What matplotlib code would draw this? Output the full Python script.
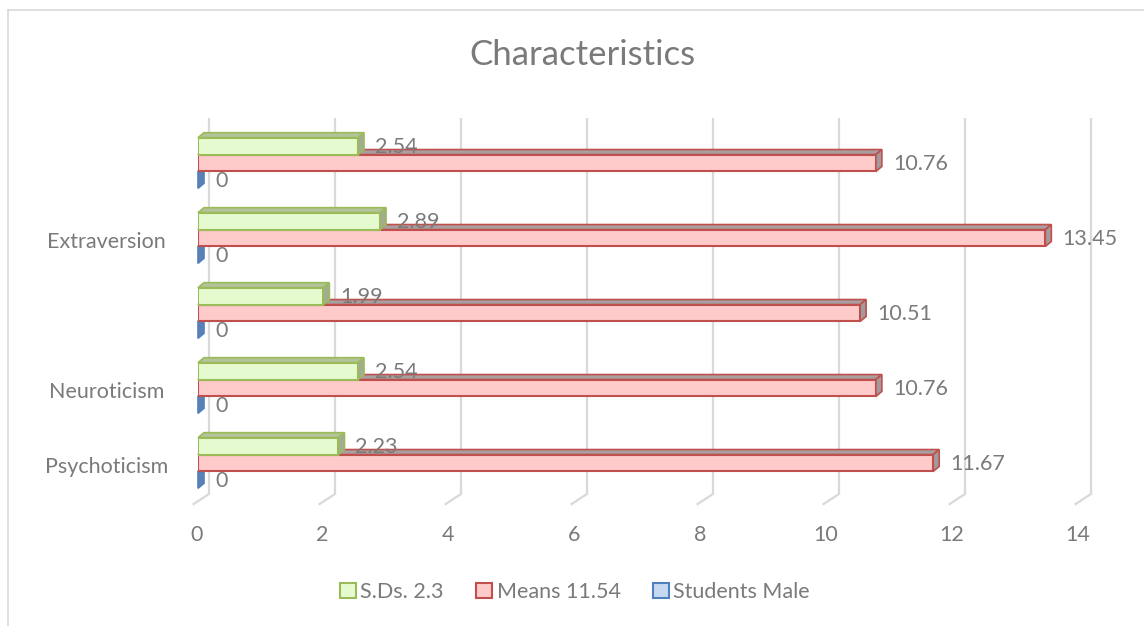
import matplotlib.pyplot as plt
from matplotlib.patches import Polygon, Patch
from matplotlib.lines import Line2D

plt.rcParams['font.family'] = ['Lato', 'DejaVu Sans']

# data
categories = ["Psychoticism", "Neuroticism", "", "Extraversion", ""]
sds = [2.23, 2.54, 1.99, 2.89, 2.54]
means = [11.67, 10.76, 10.51, 13.45, 10.76]
students_male = [0, 0, 0, 0, 0]
series_names = ["S.Ds. 2.3", "Means 11.54", "Students Male"]
xticks = [0, 2, 4, 6, 8, 10, 12, 14]

text_col = '#7a7a7a'
grid_col = '#d9d9d9'
fs = 15.5

# face, edge, side, top colours per series
green = ('#e6fad0', '#9bbb59', '#a3ab93', '#b3c49a')
red = ('#ffcaca', '#c0504d', '#a39b9b', '#a8a0a0')
blue = ('#c6d9f1', '#4f81bd', '#5d80b4', '#7a98c4')

W, H = 1144, 626
fig = plt.figure(figsize=(W / 100, H / 100), dpi=100)
# x: 0 -> 198px, 14 -> 1080px ; y: image 520px .. 110px
ax = fig.add_axes([198 / W, (H - 520) / H, 882 / W, 410 / H])
ax.set_xlim(0, 14)
ax.set_ylim(-0.76, 4.707)
ax.axis('off')

dx, dy = 0.095, 0.067   # fake 3d depth
h = 0.225
back, front = 0.175, -0.07
floor_back, floor_front = -0.413, -0.547

# back wall grid and floor
for v in xticks:
    ax.plot([v + back, v + back], [floor_back, 4.6], color=grid_col, lw=1.6,
            zorder=1, clip_on=False, solid_capstyle='butt')
    ax.plot([v + back, v + front], [floor_back, floor_front], color=grid_col,
            lw=1.6, zorder=1, clip_on=False)
    ax.text(v - 0.03, -0.96, str(v), ha='center', va='center', fontsize=fs,
            color=text_col, clip_on=False)


def bar3d(vals, centers, col, z):
    ax.barh(centers, vals, height=h, left=0, color=col[0], edgecolor=col[1],
            linewidth=1.5, zorder=z + 1)
    for v, c in zip(vals, centers):
        lo, hi = c - h / 2, c + h / 2
        top = [(0, hi), (dx, hi + dy), (v + dx, hi + dy), (v, hi)]
        side = [(v, lo), (v + dx, lo + dy), (v + dx, hi + dy), (v, hi)]
        ax.add_patch(Polygon(top, closed=True, facecolor=col[3], edgecolor=col[1],
                             lw=1.2, zorder=z, clip_on=False))
        ax.add_patch(Polygon(side, closed=True, facecolor=col[2], edgecolor=col[1],
                             lw=1.2, zorder=z + 1.5, clip_on=False))


pos = list(range(len(categories)))
pos_red = pos
pos_green = [p + h for p in pos]
pos_blue = [p - h for p in pos]

bar3d(students_male, pos_blue, blue, 2)
bar3d(means, pos_red, red, 4)
bar3d(sds, pos_green, green, 7)

for vals, centers in [(sds, pos_green), (means, pos_red), (students_male, pos_blue)]:
    for v, c in zip(vals, centers):
        ax.text(v + 0.27, c - 0.015, f"{v:g}", ha='left', va='center', fontsize=fs,
                color=text_col, zorder=20, clip_on=False)

for name, p in zip(categories, pos):
    ax.text(-1.45, p - 0.055, name, ha='center', va='center', fontsize=fs,
            color=text_col, clip_on=False)

fig.text(582 / W, 1 - 55 / H, "Characteristics", ha='center', va='center',
         fontsize=25, color=text_col)

handles = [Patch(facecolor=c[0], edgecolor=c[1], lw=1.5) for c in (green, red, blue)]
fig.legend(handles, series_names, loc='center', bbox_to_anchor=(575 / W, 1 - 592 / H),
           ncol=3, frameon=False, fontsize=fs, labelcolor=text_col,
           handlelength=0.75, handleheight=0.75, handletextpad=0.2, columnspacing=1.5)

# chart frame
fig.add_artist(Line2D([8 / W, 1], [1 - 10 / H, 1 - 10 / H], color=grid_col, lw=1.2))
fig.add_artist(Line2D([8 / W, 8 / W], [0, 1 - 10 / H], color=grid_col, lw=1.2))

fig.savefig('out.png', dpi=100, facecolor='white')
